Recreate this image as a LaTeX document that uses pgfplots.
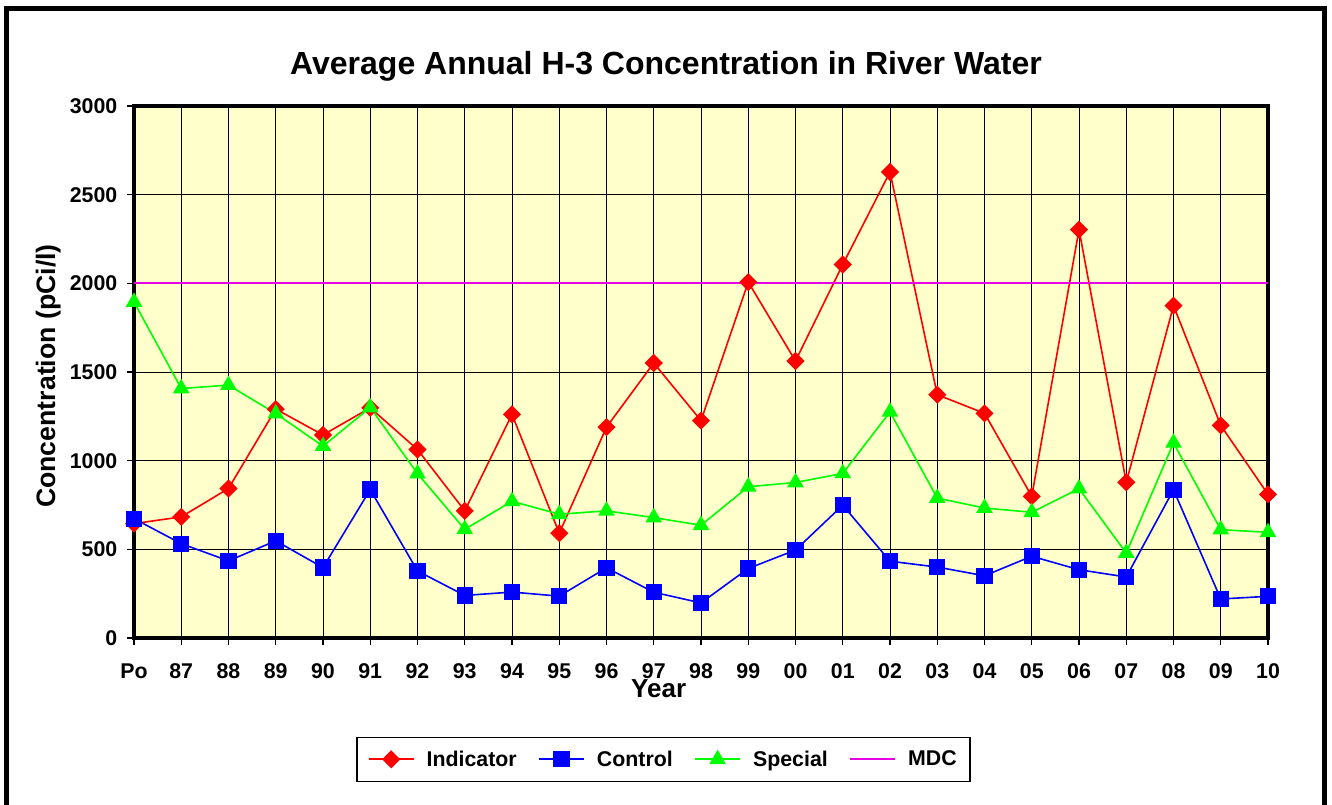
\documentclass[border=0pt]{standalone}
\usepackage{fontspec}
\setmainfont{Liberation Sans}
\usepackage{pgfplots}
\pgfplotsset{compat=1.18}
\definecolor{bgy}{RGB}{255,255,204}
\definecolor{mdc}{RGB}{230,0,230}
\definecolor{ind}{RGB}{255,0,0}
\definecolor{ctl}{RGB}{0,0,255}
\definecolor{spc}{RGB}{0,255,0}
\begin{document}
\begin{tikzpicture}
\useasboundingbox (0,0) rectangle (999pt,603pt);
\fill[white] (0,0) rectangle (999pt,603pt);
\begin{axis}[
  at={(100.5pt,124.5pt)}, anchor=south west,
  scale only axis, width=850.5pt, height=399pt,
  xmin=0, xmax=24, ymin=0, ymax=3000,
  xtick={0,...,24},
  xticklabels={Po,87,88,89,90,91,92,93,94,95,96,97,98,99,00,01,02,03,04,05,06,07,08,09,10},
  ytick={0,500,...,3000},
  grid=major, grid style={black, line width=0.75pt},
  axis background/.style={fill=bgy},
  axis line style={line width=3pt},
  tick align=outside, tick pos=left,
  major tick length=5pt,
  tick style={black, line width=0.8pt},
  ticklabel style={font=\bfseries\fontsize{16}{19}\selectfont},
  /pgf/number format/assume math mode=true,
  /pgf/number format/set thousands separator={},
  xticklabel style={yshift=-11pt},
  yticklabel style={xshift=-4pt},
  clip=false,
  legend columns=4,
  legend cell align=left,
  legend image code/.code={\draw[mark repeat=2,mark phase=2,#1] plot coordinates {(0pt,0pt) (17pt,0pt) (34pt,0pt)}; \path (0pt,0pt) (41pt,0pt);},
  legend style={at={(0.467,-0.228)}, anchor=center, draw=black, line width=1pt,
    font=\bfseries\fontsize{16}{19}\selectfont, inner xsep=8pt, inner ysep=8pt,
    /tikz/every even column/.append style={column sep=14pt}},
]
\addplot[ind, line width=1.2pt, mark=square*, mark size=4.2pt, mark options={rotate=45, fill=ind, draw=ind, solid}] coordinates {
(0,645) (1,683) (2,843) (3,1291) (4,1145) (5,1298) (6,1063) (7,717) (8,1261) (9,591) (10,1189) (11,1551) (12,1226) (13,2007) (14,1562) (15,2106) (16,2628) (17,1372) (18,1267) (19,799) (20,2303) (21,878) (22,1874) (23,1199) (24,810)};
\addlegendentry{Indicator}
\addplot[ctl, line width=1.2pt, mark=square*, mark size=5.5pt, mark options={fill=ctl, draw=ctl}] coordinates {
(0,673) (1,532) (2,435) (3,548) (4,397) (5,837) (6,378) (7,240) (8,259) (9,236) (10,396) (11,258) (12,198) (13,392) (14,496) (15,749) (16,433) (17,400) (18,351) (19,461) (20,385) (21,344) (22,836) (23,220) (24,235)};
\addlegendentry{Control}
\addplot[spc, line width=1.2pt, mark=triangle*, mark size=6pt, mark options={fill=spc, draw=spc}] coordinates {
(0,1895) (1,1407) (2,1426) (3,1266) (4,1082) (5,1300) (6,927) (7,613) (8,771) (9,698) (10,717) (11,679) (12,636) (13,853) (14,877) (15,928) (16,1275) (17,789) (18,733) (19,709) (20,842) (21,479) (22,1100) (23,611) (24,596)};
\addlegendentry{Special}
\addplot[mdc, line width=1.3pt, no marks] coordinates {
(0,2000) (1,2000) (2,2000) (3,2000) (4,2000) (5,2000) (6,2000) (7,2000) (8,2000) (9,2000) (10,2000) (11,2000) (12,2000) (13,2000) (14,2000) (15,2000) (16,2000) (17,2000) (18,2000) (19,2000) (20,2000) (21,2000) (22,2000) (23,2000) (24,2000)};
\addlegendentry{MDC}
\end{axis}
\node[font=\bfseries\fontsize{24}{28}\selectfont, anchor=base] at (499.5pt,546.75pt) {Average Annual H-3 Concentration in River Water};
\node[rotate=90, anchor=base, font=\bfseries\fontsize{20}{24}\selectfont] at (41.25pt,321pt) {Concentration (pCi/l)};
\node[anchor=base, font=\bfseries\fontsize{19.5}{23}\selectfont] at (494pt,80.25pt) {Year};
\draw[line width=3.75pt] (4.875pt,-5pt) -- (4.875pt,596.25pt) -- (993.2pt,596.25pt) -- (993.2pt,-5pt);
\end{tikzpicture}
\end{document}
